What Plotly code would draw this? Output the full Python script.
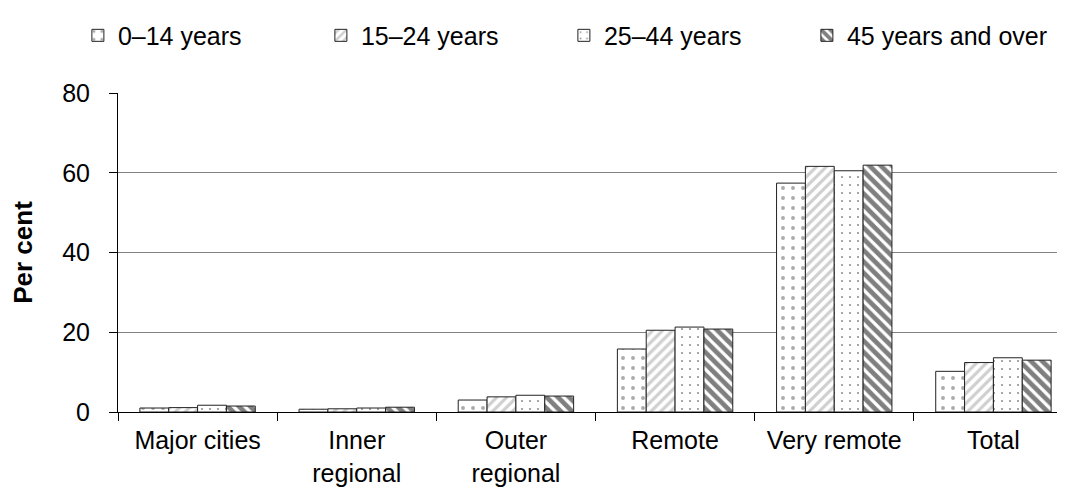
import plotly.graph_objects as go

categories = ["Major cities", "Inner<br>regional", "Outer<br>regional", "Remote", "Very remote", "Total"]
age_groups = ["0–14 years", "15–24 years", "25–44 years", "45 years and over"]
v_0_14 = [1.0, 0.7, 3.0, 15.8, 57.4, 10.2]
v_15_24 = [1.1, 0.8, 3.8, 20.5, 61.6, 12.4]
v_25_44 = [1.7, 1.0, 4.2, 21.3, 60.5, 13.6]
v_45_over = [1.5, 1.2, 4.0, 20.8, 61.9, 13.0]
y_ticks = [0, 20, 40, 60, 80]

series = [v_0_14, v_15_24, v_25_44, v_45_over]
patterns = [
    dict(shape=".", fgcolor="#555555", bgcolor="white", size=10, solidity=0.12),
    dict(shape="/", fgcolor="#a0a0a0", bgcolor="white", size=7, solidity=0.45),
    dict(shape=".", fgcolor="#111111", bgcolor="white", size=8, solidity=0.05),
    dict(shape="\\", fgcolor="#000000", bgcolor="white", size=8, solidity=0.6),
]

fig = go.Figure()
for name, vals, pat in zip(age_groups, series, patterns):
    fig.add_trace(go.Bar(
        x=categories, y=vals, name=name,
        marker=dict(color="white", line=dict(color="#222222", width=1), pattern=pat),
    ))

font = "Liberation Sans, Arial, sans-serif"
fig.update_layout(
    width=1065, height=488,
    margin=dict(l=110, r=0, t=85, b=84),
    paper_bgcolor="white", plot_bgcolor="white",
    barmode="group", bargap=0.275, bargroupgap=0,
    font=dict(family=font, size=26, color="black"),
    showlegend=True,
    legend=dict(orientation="h", x=-0.042, xanchor="left", y=1.18, yanchor="middle",
                entrywidth=198, entrywidthmode="pixels", font=dict(size=25),
                traceorder="normal", itemwidth=30, tracegroupgap=0),
    xaxis=dict(showline=True, linecolor="black", linewidth=1, ticks="outside",
               ticklen=8, tickcolor="black", tickson="boundaries", showgrid=False,
               tickfont=dict(size=25), ticklabelstandoff=6),
    yaxis=dict(range=[0, 80], tickvals=y_ticks, showline=True, linecolor="black",
               linewidth=1, ticks="outside", ticklen=8, tickcolor="black",
               showgrid=True, gridcolor="#808080", gridwidth=1, zeroline=False,
               ticklabelstandoff=14,
               title=dict(text="<b>Per cent</b>", font=dict(size=26), standoff=22),
               tickfont=dict(size=25)),
)

fig.write_html("out.html")
